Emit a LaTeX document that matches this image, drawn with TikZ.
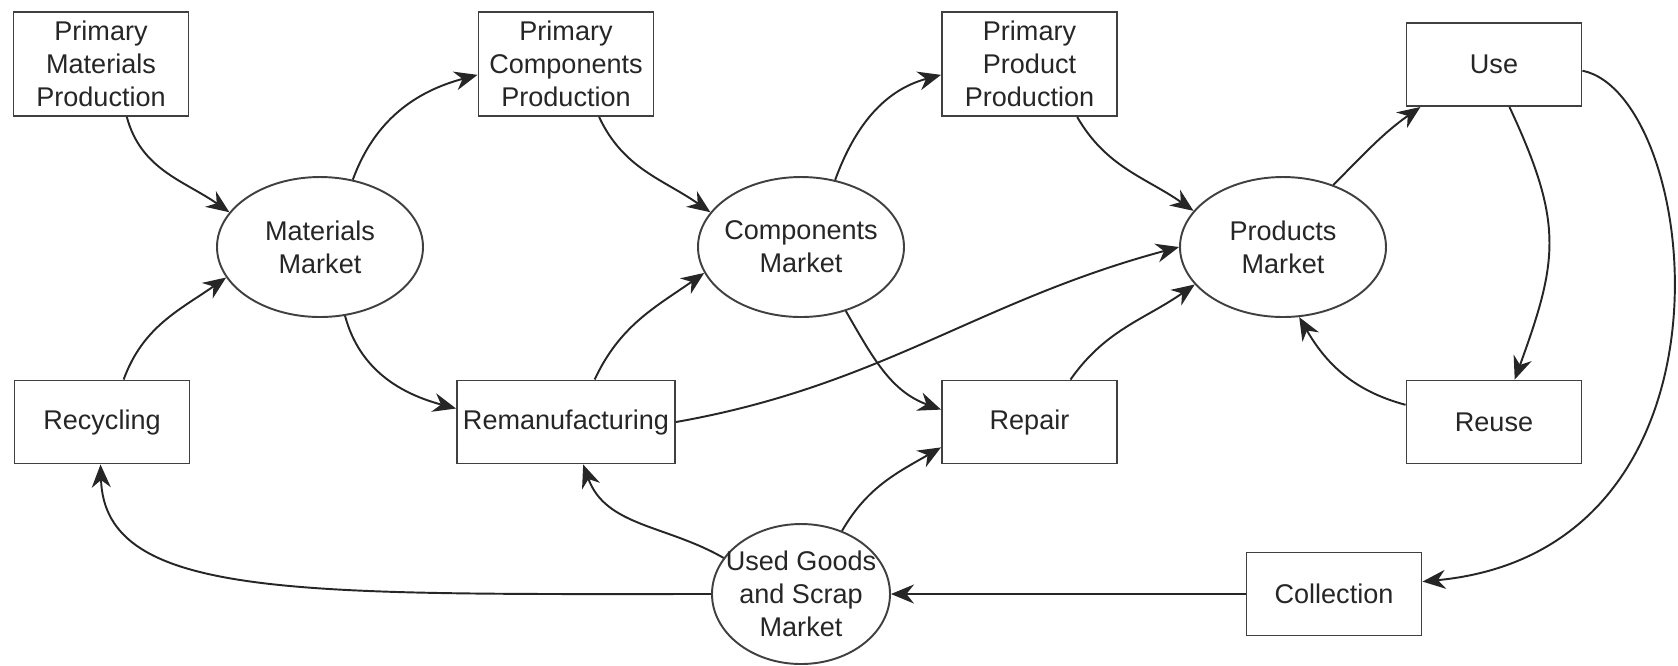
\documentclass[tikz,border=0pt]{standalone}
\usepackage{fontspec}
\setmainfont{Liberation Sans}
\usetikzlibrary{arrows.meta,shapes.geometric}
\tikzset{
  stage/.style={draw=black!75,line width=0.55pt,minimum width=17.5mm,minimum height=8.3mm,
            inner sep=1pt,align=center,font=\fontsize{7.7}{9.4}\selectfont,text=black!85},
  prodbox/.style={stage,minimum height=10.4mm},
  market/.style={ellipse,draw=black!75,line width=0.55pt,minimum width=20.6mm,minimum height=14mm,
            inner xsep=-0.5mm,inner ysep=0pt,align=center,font=\fontsize{7.7}{9.4}\selectfont,text=black!85},
  flow/.style={-{Stealth[length=2.3mm,width=1.9mm]},line width=0.55pt,black!85},
}

\begin{document}
\begin{tikzpicture}[x=0.1mm,y=-0.1mm]
  \useasboundingbox (0,0) rectangle (1678,665);
  % top row
  \node[prodbox] (pmp) at (101,64) {Primary\\Materials\\Production};
  \node[prodbox] (pcp) at (566,64) {Primary\\Components\\Production};
  \node[prodbox] (ppp) at (1029.5,64) {Primary\\Product\\Production};
  \node[stage] (use) at (1494,64.5) {Use};
  % markets
  \node[market] (mm) at (320,247) {Materials\\Market};
  \node[market] (cm) at (801,247) {Components\\Market};
  \node[market] (pm) at (1283,247) {Products\\Market};
  % bottom row
  \node[stage] (rec) at (102,422) {Recycling};
  \node[stage,minimum width=21.8mm] (reman) at (566,422) {Remanufacturing};
  \node[stage] (rep) at (1029.5,422) {Repair};
  \node[stage] (reu) at (1494,422) {Reuse};
  \node[market,minimum width=17.8mm,inner xsep=-1.3mm] (ugs) at (801,594) {Used Goods\\and Scrap\\Market};
  \node[stage] (coll) at (1334,594) {Collection};

  \draw[flow] (pmp.-64) to[out=-75,in=145] (mm.159);
  \draw[flow] (mm.64) to[out=70,in=195] (pcp.-173);
  \draw[flow] (pcp.-58) to[out=-65,in=145] (cm.159);
  \draw[flow] (cm.63) to[out=70,in=195] (ppp.-173);
  \draw[flow] (ppp.-48) to[out=-60,in=145] (pm.158);
  \draw[flow] (pm.51) to[out=45,in=215] (use.-150);
  \draw[flow] (use.-4) .. controls (1700,95) and (1755,550) .. (coll.8);
  \draw[flow] (use.-70) to[out=-65,in=70,looseness=1.2] (reu.64);
  \draw[flow] (reu.169) to[out=165,in=-60] (pm.-77);
  \draw[flow] (coll) -- (ugs);
  \draw[flow] (ugs.west) .. controls (300,594) and (105,600) .. (rec.-92);
  \draw[flow] (ugs.155) to[out=150,in=-70] (reman.-68);
  \draw[flow] (ugs.57) to[out=60,in=210] (rep.196);
  \draw[flow] (rec.63) to[out=70,in=215] (mm.198);
  \draw[flow] (mm.-70) to[out=-75,in=165] (reman.173);
  \draw[flow] (reman.56) to[out=65,in=215] (cm.195);
  \draw[flow] (reman.east) to[out=10,in=195] (pm.west);
  \draw[flow] (cm.-55) to[out=-60,in=160] (rep.172);
  \draw[flow] (rep.46) to[out=55,in=215] (pm.203);
\end{tikzpicture}
\end{document}
